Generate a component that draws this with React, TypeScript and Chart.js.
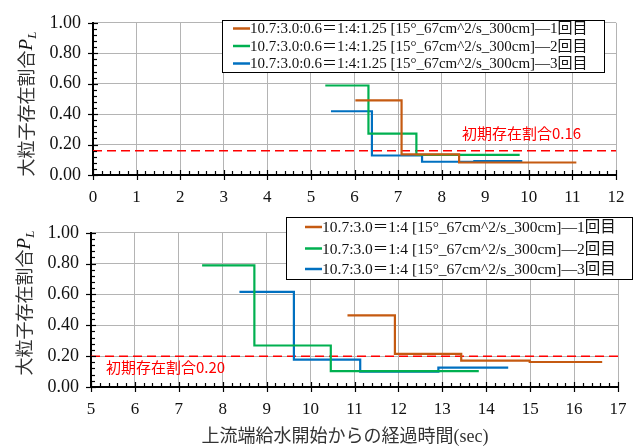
import React, { useEffect, useRef } from 'react';
import { Chart, registerables } from 'chart.js';
Chart.register(...registerables);

// ---------- data ----------
const topRun1X = [6.02, 7.08, 8.4, 11.09];
const topRun1Y = [0.49, 0.136, 0.082, 0.082];
const topRun2X = [5.33, 6.32, 7.42, 9.79];
const topRun2Y = [0.588, 0.272, 0.132, 0.132];
const topRun3X = [5.46, 6.4, 7.55, 8.75, 9.85];
const topRun3Y = [0.419, 0.128, 0.087, 0.092, 0.092];
const topInitial = 0.16;

const botRun1X = [10.84, 11.92, 13.43, 14.99, 16.64];
const botRun1Y = [0.465, 0.215, 0.171, 0.162, 0.162];
const botRun2X = [7.53, 8.72, 10.46, 13.83];
const botRun2Y = [0.789, 0.269, 0.103, 0.103];
const botRun3X = [8.38, 9.62, 11.13, 12.91, 14.5];
const botRun3Y = [0.617, 0.177, 0.099, 0.126, 0.126];
const botInitial = 0.2;

const topLabels = [
  '10.7:3.0:0.6＝1:4:1.25 [15°_67cm^2/s_300cm]—1回目',
  '10.7:3.0:0.6＝1:4:1.25 [15°_67cm^2/s_300cm]—2回目',
  '10.7:3.0:0.6＝1:4:1.25 [15°_67cm^2/s_300cm]—3回目',
];
const botLabels = [
  '10.7:3.0＝1:4 [15°_67cm^2/s_300cm]—1回目',
  '10.7:3.0＝1:4 [15°_67cm^2/s_300cm]—2回目',
  '10.7:3.0＝1:4 [15°_67cm^2/s_300cm]—3回目',
];
const topInitLabel = '初期存在割合0.16';
const botInitLabel = '初期存在割合0.20';
const yTickLabels = ['0.00', '0.20', '0.40', '0.60', '0.80', '1.00'];
const topXRange = [0, 12];
const botXRange = [5, 17];
const yTitleMain = '大粒子存在割合';
const yTitleSym = 'P';
const yTitleSub = 'L';
const xTitle = '上流端給水開始からの経過時間(sec)';

// ---------- styles ----------
const ORANGE = '#C55A11';
const GREEN = '#00B050';
const BLUE = '#0070C0';
const RED = '#FF0000';
const SERIF = "'Liberation Serif', 'Noto Sans CJK JP', serif";
const SANS_JP = "'Noto Sans CJK JP', 'Noto Sans', sans-serif";

const pts = (xs: number[], ys: number[]) => xs.map((x, i) => ({ x, y: ys[i] }));

type Layout = {
  w: number;
  h: number;
  pad: { left: number; right: number; top: number; bottom: number };
  yWidth: number;
  xHeight: number;
  legend: { x: number; y: number; w: number; h: number; rows: number[]; lineX: number; font: number };
  initLabel: { text: string; x: number; y: number };
  yTitle: { x: number; y: number };
  xTitle?: { x: number; y: number };
};

function makeDecor(L: Layout) {
  return {
    id: 'decor',
    afterDraw(chart: any) {
      const ctx = chart.ctx as CanvasRenderingContext2D;
      const { left, right, top, bottom } = chart.chartArea;
      const xs = chart.scales.x;
      const ys = chart.scales.y;
      ctx.save();
      // ticks
      ctx.strokeStyle = '#000';
      ctx.lineWidth = 1.2;
      for (let i = 0; i <= 25; i++) {
        const v = ys.min + (i * (ys.max - ys.min)) / 25;
        const py = Math.round(ys.getPixelForValue(v)) + 0.5;
        const major = i % 5 === 0;
        ctx.beginPath();
        ctx.moveTo(left - (major ? 5 : 0), py);
        ctx.lineTo(left + (major ? 5 : 4), py);
        ctx.stroke();
      }
      const nx = Math.round((xs.max - xs.min) * 5);
      for (let i = 0; i <= nx; i++) {
        const v = xs.min + i * 0.2;
        const px = Math.round(xs.getPixelForValue(v)) + 0.5;
        const major = i % 5 === 0;
        ctx.beginPath();
        ctx.moveTo(px, bottom + (major ? 5 : 0));
        ctx.lineTo(px, bottom - (major ? 5 : 4));
        ctx.stroke();
      }
      // init label
      ctx.fillStyle = RED;
      ctx.font = `15px ${SANS_JP}`;
      ctx.textAlign = 'left';
      ctx.textBaseline = 'middle';
      ctx.fillText(L.initLabel.text, L.initLabel.x, L.initLabel.y);

      // legend
      const lg = L.legend;
      ctx.fillStyle = '#fff';
      ctx.fillRect(lg.x, lg.y, lg.w, lg.h);
      ctx.strokeStyle = '#000';
      ctx.lineWidth = 1;
      ctx.strokeRect(lg.x + 0.5, lg.y + 0.5, lg.w, lg.h);
      ctx.font = `${lg.font}px ${SERIF}`;
      ctx.textBaseline = 'middle';
      let r = 0;
      chart.data.datasets.forEach((ds: any) => {
        if (!ds.legend) return;
        const yy = lg.rows[r++];
        ctx.strokeStyle = ds.borderColor;
        ctx.lineWidth = 2.5;
        ctx.beginPath();
        ctx.moveTo(lg.lineX, yy);
        ctx.lineTo(lg.lineX + 17, yy);
        ctx.stroke();
        ctx.fillStyle = '#111';
        ctx.fillText(ds.label, lg.lineX + 17, yy + 1);
      });

      // y title
      ctx.save();
      ctx.translate(L.yTitle.x, L.yTitle.y);
      ctx.rotate(-Math.PI / 2);
      ctx.fillStyle = '#333';
      ctx.textBaseline = 'middle';
      ctx.textAlign = 'left';
      const fMain = `18px ${SERIF}`;
      const fSym = `italic 19px ${SERIF}`;
      const fSub = `italic 13px ${SERIF}`;
      ctx.font = fMain;
      const w1 = ctx.measureText(yTitleMain).width;
      ctx.font = fSym;
      const w2 = ctx.measureText(yTitleSym).width;
      ctx.font = fSub;
      const w3 = ctx.measureText(yTitleSub).width;
      let sx = -(w1 + w2 + w3) / 2;
      ctx.font = fMain;
      ctx.fillText(yTitleMain, sx, 0);
      sx += w1;
      ctx.font = fSym;
      ctx.fillStyle = '#111';
      ctx.fillText(yTitleSym, sx, -1);
      sx += w2;
      ctx.font = fSub;
      ctx.fillText(yTitleSub, sx, 5);
      ctx.restore();

      if (L.xTitle) {
        ctx.font = `18px ${SERIF}`;
        ctx.fillStyle = '#333';
        ctx.textAlign = 'center';
        ctx.textBaseline = 'middle';
        ctx.fillText(xTitle, L.xTitle.x, L.xTitle.y);
      }
      ctx.restore();
    },
  };
}

function makeConfig(
  series: { x: number[]; y: number[]; label: string; color: string }[],
  init: number,
  xRange: number[],
  L: Layout
): any {
  const datasets: any[] = series.map((s) => ({
    label: s.label,
    legend: true,
    data: pts(s.x, s.y),
    borderColor: s.color,
    backgroundColor: s.color,
    borderWidth: 2.2,
    pointRadius: 0,
    stepped: 'before',
    fill: false,
  }));
  datasets.push({
    label: 'init',
    legend: false,
    data: [
      { x: xRange[0], y: init },
      { x: xRange[1], y: init },
    ],
    borderColor: RED,
    borderWidth: 1.5,
    borderDash: [9, 5],
    pointRadius: 0,
    fill: false,
  });
  return {
    type: 'line',
    data: { datasets },
    options: {
      animation: false,
      responsive: false,
      devicePixelRatio: 1,
      layout: { padding: L.pad },
      plugins: { legend: { display: false }, tooltip: { enabled: false } },
      scales: {
        x: {
          type: 'linear',
          min: xRange[0],
          max: xRange[1],
          afterFit: (s: any) => {
            s.height = L.xHeight;
          },
          ticks: {
            stepSize: 1,
            autoSkip: false,
            maxRotation: 0,
            padding: 12,
            color: '#111',
            font: { family: SERIF, size: 17 },
            callback: (v: any) => String(v),
          },
          grid: { color: '#b4b4b4', lineWidth: 1, drawTicks: false },
          border: { display: true, color: '#000', width: 2 },
        },
        y: {
          type: 'linear',
          min: 0,
          max: 1,
          afterFit: (s: any) => {
            s.width = L.yWidth;
          },
          ticks: {
            stepSize: 0.2,
            autoSkip: false,
            padding: 12,
            color: '#111',
            font: { family: SERIF, size: 18 },
            callback: (v: any) => yTickLabels[Math.round(Number(v) / 0.2)] ?? '',
          },
          grid: { color: '#b4b4b4', lineWidth: 1, drawTicks: false },
          border: { display: true, color: '#000', width: 2 },
        },
      },
    },
    plugins: [makeDecor(L)],
  };
}

const topLayout: Layout = {
  w: 640,
  h: 210,
  pad: { left: 0, right: 24, top: 13, bottom: 0 },
  yWidth: 93,
  xHeight: 35,
  legend: { x: 222, y: 20, w: 382, h: 52, rows: [28.5, 46, 63.5], lineX: 233, font: 15 },
  initLabel: { text: topInitLabel, x: 462, y: 133 },
  yTitle: { x: 28, y: 104 },
};

const botLayout: Layout = {
  w: 640,
  h: 237,
  pad: { left: 0, right: 22, top: 18, bottom: 0 },
  yWidth: 91,
  xHeight: 60,
  legend: { x: 286, y: 7, w: 346, h: 62, rows: [17, 38.5, 59], lineX: 305, font: 15.5 },
  initLabel: { text: botInitLabel, x: 106, y: 157 },
  yTitle: { x: 26, y: 93 },
  xTitle: { x: 345, y: 227 },
};

function ChartCanvas({ config, w, h, top }: { config: any; w: number; h: number; top: number }) {
  const ref = useRef<HTMLCanvasElement | null>(null);
  useEffect(() => {
    if (!ref.current) return;
    const chart = new Chart(ref.current, config);
    return () => chart.destroy();
  }, []);
  return (
    <canvas
      ref={ref}
      width={w}
      height={h}
      style={{ position: 'absolute', left: 0, top, width: w, height: h, display: 'block' }}
    />
  );
}

export default function App() {
  const topConfig = makeConfig(
    [
      { x: topRun1X, y: topRun1Y, label: topLabels[0], color: ORANGE },
      { x: topRun2X, y: topRun2Y, label: topLabels[1], color: GREEN },
      { x: topRun3X, y: topRun3Y, label: topLabels[2], color: BLUE },
    ],
    topInitial,
    topXRange,
    topLayout
  );
  const botConfig = makeConfig(
    [
      { x: botRun1X, y: botRun1Y, label: botLabels[0], color: ORANGE },
      { x: botRun2X, y: botRun2Y, label: botLabels[1], color: GREEN },
      { x: botRun3X, y: botRun3Y, label: botLabels[2], color: BLUE },
    ],
    botInitial,
    botXRange,
    botLayout
  );
  return (
    <div style={{ position: 'absolute', left: 0, top: 0, width: 640, height: 447, background: '#fff' }}>
      <ChartCanvas config={topConfig} w={640} h={210} top={0} />
      <ChartCanvas config={botConfig} w={640} h={237} top={210} />
    </div>
  );
}
